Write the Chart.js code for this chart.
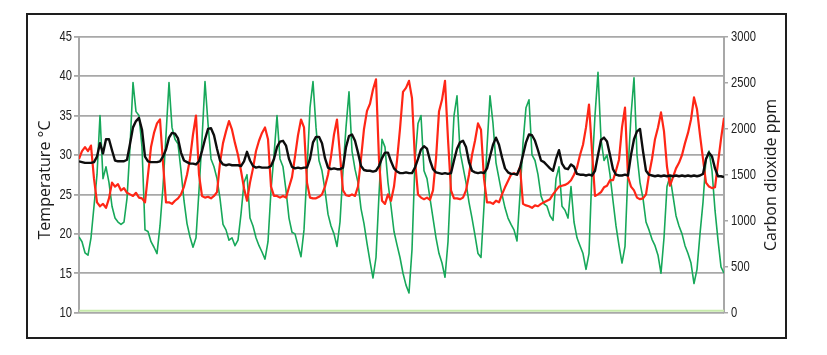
<!DOCTYPE html>
<html>
<head>
<meta charset="utf-8">
<script src="https://cdn.jsdelivr.net/npm/chart.js@4.4.1/dist/chart.umd.min.js"></script>
<style>
  html, body { margin: 0; padding: 0; background: #fff; }
  #wrap { position: relative; width: 827px; height: 355px; }
  #frame { position: absolute; left: 26px; top: 13px; width: 761px; height: 326px;
           box-sizing: border-box; border: 2px solid #1e1e1e; pointer-events: none; }
  canvas { position: absolute; left: 0; top: 0; }
</style>
</head>
<body>
<div id="wrap">
  <canvas id="chart" width="827" height="355"></canvas>
  <div id="frame"></div>
</div>
<script>
// one reading every 2 hours, about 18 days
const SAMPLE_HOURS = 2;

// outdoor temperature, degC (green)
const outdoorTemp = [
  19.6, 19.0, 17.6, 17.3, 19.5, 23.5, 27.5, 35, 27, 28.5, 26.5, 23.5,
  22, 21.5, 21.2, 21.5, 24.5, 31, 39.2, 35.5, 35, 31, 20.5, 20.3,
  19.0, 18.3, 17.5, 21, 26, 32.5, 39.2, 33.5, 32, 31.4, 28, 24.2,
  21.3, 19.6, 18.3, 19.5, 25.5, 32, 39.3, 34, 29.5, 28.5, 27, 24.5,
  21.2, 20.5, 19.2, 19.5, 18.5, 19.2, 22.5, 26.5, 27.5, 22, 21, 19.5,
  18.5, 17.7, 16.8, 19, 25.5, 30, 35, 29.5, 28.5, 25.5, 22, 20.2,
  20, 18.5, 17.1, 20.5, 28, 36, 39.3, 33.5, 29.3, 28, 25.5, 22.5,
  21, 20, 18.4, 21.5, 28, 33.5, 38, 30.5, 28.2, 26.5, 23.2, 21.3,
  18.8, 16.5, 14.4, 17, 25, 32, 31, 26.5, 23.5, 20.3, 18.6, 17,
  15, 13.5, 12.5, 18, 29.3, 34, 35, 28, 27, 24.5, 22, 19.5,
  17.5, 16.3, 14.5, 19, 27.5, 35, 37.5, 30.5, 28.5, 26.5, 24, 22,
  19.8, 17.5, 17, 23.5, 31, 37.5, 34, 29, 27, 25, 23.3, 22,
  21.2, 20.5, 19.1, 25, 31.5, 36, 37, 30, 29.3, 27.5, 24.8, 23.8,
  23.5, 22.3, 21.7, 27, 28.5, 23.5, 23, 22, 26, 21.5, 19.5, 18.5,
  17.5, 15.5, 17.5, 28, 35, 40.5, 32, 29.3, 30, 27.5, 24.2, 21,
  18.5, 16.3, 18.4, 28, 35, 39.8, 30, 26.5, 24.5, 21.5, 20.5, 19.3,
  18.5, 17.3, 15, 19.5, 26, 27.3, 24.8, 22.3, 21, 20, 18.5, 17.5,
  16.3, 13.7, 15.5, 20, 24, 29.5, 30.5, 28, 23, 19.2, 15.8, 15
];

// indoor temperature, degC (black)
const indoorTemp = [
  29.2, 29.1, 29, 29, 29, 29.1, 29.8, 31.5, 30.2, 32, 32, 30.6,
  29.3, 29.2, 29.2, 29.2, 29.4, 31.4, 33.5, 34.3, 34.7, 33.2, 29.8, 29.2,
  29.1, 29.1, 29.1, 29.2, 29.8, 30.7, 32.2, 32.8, 32.7, 32.1, 30.3, 29.3,
  29.1, 28.9, 28.9, 28.8, 29.2, 30.5, 32, 33.3, 33.4, 32.5, 30.8, 29.3,
  28.8, 28.7, 28.8, 28.7, 28.7, 28.7, 28.6, 29.2, 30.4, 29.3, 28.6, 28.4,
  28.5, 28.4, 28.4, 28.4, 28.6, 29.5, 31, 31.7, 31.8, 31.2, 29.5, 28.5,
  28.3, 28.4, 28.3, 28.4, 28.4, 29.5, 31.6, 32.3, 32.3, 31.5, 29.6, 28.4,
  28.2, 28.3, 28.2, 28.2, 28.4, 31, 32.4, 32.6, 31.8, 30.3, 28.6, 28.1,
  28, 28, 27.9, 28, 28.6, 29.6, 30.3, 30.3, 29.2, 28.3, 27.9, 27.7,
  27.7, 27.8, 27.7, 27.7, 28.4, 29.5, 30.7, 31.1, 30.8, 29.3, 28.2, 27.8,
  27.7, 27.6, 27.7, 27.6, 27.7, 29.3, 30.8, 31.6, 31.8, 31, 29.1, 28,
  27.8, 27.7, 27.8, 27.7, 28.3, 29.8, 31.3, 32.2, 31.3, 29.7, 28.3, 27.8,
  27.6, 27.6, 27.5, 28.4, 30, 31.6, 32.6, 32.5, 31.8, 30.6, 29.3, 29.1,
  28.7, 28.3, 28, 29.5, 30.6, 28.9, 28.3, 28.2, 28.8, 28.5, 27.6, 27.5,
  27.5, 27.4, 27.5, 27.4, 28, 30, 31.9, 32.2, 31.7, 30, 28.2, 27.5,
  27.4, 27.4, 27.5, 27.4, 30, 32, 33, 33.3, 30.5, 28, 27.5, 27.4,
  27.3, 27.4, 27.3, 27.4, 27.3, 27.4, 27.3, 27.4, 27.3, 27.4, 27.3, 27.4,
  27.3, 27.4, 27.3, 27.4, 27.6, 29.5, 30.3, 29.8, 28.3, 27.3, 27.3, 27.2
];

// carbon dioxide, ppm (red)
const co2 = [
  1671, 1757, 1800, 1757, 1817, 1457, 1200, 1157, 1183, 1140, 1243, 1414,
  1371, 1397, 1329, 1354, 1303, 1286, 1269, 1303, 1251, 1243, 1200, 1500,
  1800, 1954, 2057, 2100, 1629, 1200, 1200, 1183, 1217, 1243, 1286, 1371,
  1500, 1671, 1937, 2143, 1500, 1269, 1251, 1260, 1243, 1269, 1311, 1629,
  1843, 1971, 2083, 1989, 1843, 1714, 1543, 1354, 1217, 1414, 1569, 1757,
  1869, 1954, 2014, 1886, 1371, 1269, 1269, 1251, 1269, 1251, 1363, 1474,
  1697, 1929, 2100, 2014, 1414, 1251, 1243, 1243, 1260, 1286, 1371, 1500,
  1697, 1937, 2100, 1714, 1329, 1277, 1269, 1286, 1269, 1371, 1671, 1997,
  2194, 2271, 2426, 2537, 1663, 1217, 1183, 1286, 1217, 1371, 1654, 1997,
  2400, 2443, 2520, 2331, 1654, 1286, 1251, 1234, 1251, 1226, 1329, 1671,
  2186, 2314, 2520, 1886, 1329, 1243, 1243, 1234, 1251, 1329, 1500, 1714,
  1869, 2057, 1989, 1457, 1200, 1200, 1183, 1217, 1200, 1286, 1363, 1431,
  1500, 1517, 1500, 1586, 1183, 1166, 1157, 1140, 1166, 1157, 1183, 1200,
  1217, 1234, 1286, 1329, 1371, 1380, 1389, 1406, 1440, 1500, 1577, 1714,
  1826, 2014, 2263, 1757, 1269, 1286, 1311, 1363, 1380, 1440, 1440, 1543,
  1663, 2014, 2229, 1474, 1371, 1329, 1251, 1234, 1243, 1286, 1500, 1671,
  1886, 2014, 2177, 1971, 1586, 1380, 1474, 1569, 1629, 1714, 1843, 1954,
  2100, 2340, 2211, 1929, 1671, 1414, 1371, 1354, 1363, 1629, 1886, 2117
];

// faint line along the bottom, ppm, at the first and last reading
const floorLine = [22, 22];

const tempTicks = { min: 10, max: 45, step: 5 };
const co2Ticks = { min: 0, max: 3000, step: 500 };

const toPoints = arr => arr.map((v, i) => ({ x: i * SAMPLE_HOURS, y: v }));
const lastHour = (co2.length - 1) * SAMPLE_HOURS;

// the original uses a condensed face; Liberation Sans squeezed sideways stands in for it
const NARROW = 0.8;

const axisText = {
  id: 'axisText',
  afterDraw(chart) {
    const ctx = chart.ctx;

    const title = (text, x, y) => {
      ctx.save();
      ctx.translate(x, y);
      ctx.rotate(-Math.PI / 2);
      ctx.font = '16px "Open Sans", sans-serif';
      ctx.fillStyle = '#1a1a1a';
      ctx.textAlign = 'center';
      ctx.textBaseline = 'middle';
      ctx.fillText(text, 0, 0);
      ctx.restore();
    };
    title('Temperature °C', 45.5, 180);
    title('Carbon dioxide ppm', 771, 175);

    const labels = (scale, x, align) => {
      scale.ticks.forEach(t => {
        const y = scale.getPixelForValue(t.value);
        ctx.save();
        ctx.translate(x, y);
        ctx.scale(NARROW, 1);
        ctx.font = '14px "Liberation Sans", sans-serif';
        ctx.fillStyle = '#222';
        ctx.textAlign = align;
        ctx.textBaseline = 'middle';
        ctx.fillText(String(t.value), 0, 0.5);
        ctx.restore();
      });
    };
    labels(chart.scales.y, 72, 'right');
    labels(chart.scales.y2, 731, 'left');
  }
};

new Chart(document.getElementById('chart'), {
  type: 'line',
  data: {
    datasets: [
      { label: 'Indoor temperature', data: toPoints(indoorTemp), yAxisID: 'y',
        borderColor: '#0d0d0d', borderWidth: 2.4 },
      { label: 'Carbon dioxide', data: toPoints(co2), yAxisID: 'y2',
        borderColor: '#ff2616', borderWidth: 2.2 },
      { label: 'Outdoor temperature', data: toPoints(outdoorTemp), yAxisID: 'y',
        borderColor: '#17a85a', borderWidth: 1.6 },
      { label: 'floor', data: [{ x: 0, y: floorLine[0] }, { x: lastHour, y: floorLine[1] }],
        yAxisID: 'y2', borderColor: '#c6e9aa', borderWidth: 2 }
    ]
  },
  options: {
    responsive: false,
    animation: false,
    devicePixelRatio: 1,
    elements: {
      point: { radius: 0 },
      line: { tension: 0, borderJoinStyle: 'round', fill: false }
    },
    layout: { padding: { left: 30, top: 36.7, bottom: 42.3, right: 0 } },
    plugins: { legend: { display: false }, tooltip: { enabled: false } },
    scales: {
      x: { type: 'linear', min: 0, max: lastHour, display: false },
      y: {
        position: 'left',
        min: tempTicks.min, max: tempTicks.max,
        // labels are painted by axisText, keep the tick objects only
        ticks: { stepSize: tempTicks.step, color: 'rgba(0,0,0,0)', padding: 2 },
        grid: { color: '#a8a8a8', lineWidth: 1.8, tickLength: 5 },
        border: { color: '#a8a8a8', width: 2 },
        afterFit(scale) { scale.width = 49; }
      },
      y2: {
        position: 'right',
        min: co2Ticks.min, max: co2Ticks.max,
        ticks: { stepSize: co2Ticks.step, color: 'rgba(0,0,0,0)', padding: 3 },
        grid: { drawOnChartArea: false, color: '#a8a8a8', lineWidth: 1.5, tickLength: 4 },
        border: { color: '#a8a8a8', width: 2 },
        afterFit(scale) { scale.width = 103; }
      }
    }
  },
  plugins: [axisText]
});
</script>
</body>
</html>
